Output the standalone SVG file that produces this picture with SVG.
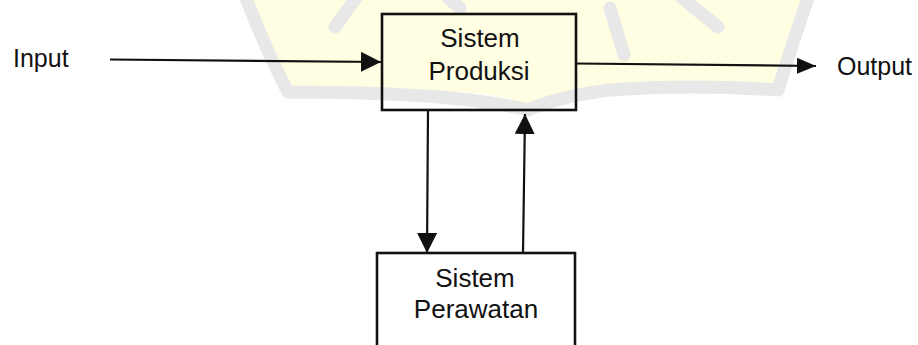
<svg xmlns="http://www.w3.org/2000/svg" width="918" height="345" viewBox="0 0 918 345">
  <style>
    .wm-fill { fill: #fffde2; stroke: none; }
    .wm-band { fill: none; stroke: #e8e8e8; stroke-width: 13; stroke-linecap: round; stroke-linejoin: round; }
    .box { fill: none; stroke: #111; stroke-width: 2.6; }
    .box2 { fill: #ffffff; stroke: #111; stroke-width: 2.6; }
    .conn { fill: none; stroke: #111; stroke-width: 2.2; }
    .lbl { font-family: "Liberation Sans", Arial, sans-serif; font-size: 25px; fill: #111; }
    .nlbl { font-family: "Liberation Sans", Arial, sans-serif; font-size: 26px; fill: #111; text-anchor: middle; }
  </style>
  <defs>
    <marker id="arrow" viewBox="0 0 20 20" refX="20" refY="10" markerWidth="20" markerHeight="20" markerUnits="userSpaceOnUse" orient="auto">
      <path d="M0,0 L20,10 L0,20 Z" fill="#111"/>
    </marker>
    <marker id="arrowSmall" viewBox="0 0 20 20" refX="20" refY="10" markerWidth="19" markerHeight="16" markerUnits="userSpaceOnUse" orient="auto" preserveAspectRatio="none">
      <path d="M0,0 L20,10 L0,20 Z" fill="#111"/>
    </marker>
  </defs>
  <rect width="918" height="345" fill="#ffffff"/>

  <!-- faint background watermark -->
  <g id="watermark">
    <path class="wm-fill" d="M252,0 L803,0 Q790,45 776,88 Q680,80 600,88 Q555,92 528,106 Q505,94 460,92 Q380,88 290,92 Q268,48 252,0 Z"/>
    <path class="wm-band" d="M246,-2 Q266,50 288,92 Q380,92 450,98 Q500,103 528,110"/>
    <path class="wm-band" d="M808,-2 Q792,45 778,90 Q690,84 610,90 Q560,96 528,110"/>
    <path class="wm-band" d="M335,27 L356,-2"/>
    <path class="wm-band" d="M610,8 L624,55"/>
    <path class="wm-band" d="M682,-2 L718,27"/>
    <path class="wm-band" d="M448,-2 L460,8"/>
  </g>

  <g id="connectors">
    <line class="conn" x1="110" y1="59.5" x2="381" y2="62" marker-end="url(#arrow)"/>
    <line class="conn" x1="576" y1="63.5" x2="816" y2="66" marker-end="url(#arrowSmall)"/>
    <line class="conn" x1="428" y1="110" x2="427" y2="253" marker-end="url(#arrow)"/>
    <line class="conn" x1="523" y1="253" x2="525" y2="114" marker-end="url(#arrow)"/>
  </g>

  <g id="input">
    <text class="lbl" x="13" y="67">Input</text>
  </g>

  <g id="output">
    <text class="lbl" x="837" y="75">Output</text>
  </g>

  <g id="sistem-produksi">
    <rect class="box" x="382" y="14" width="194" height="96"/>
    <text class="nlbl" x="480" y="47">Sistem</text>
    <text class="nlbl" x="479" y="80">Produksi</text>
  </g>

  <g id="sistem-perawatan">
    <rect class="box2" x="377" y="253" width="198" height="110"/>
    <text class="nlbl" x="475" y="287">Sistem</text>
    <text class="nlbl" x="476" y="318">Perawatan</text>
  </g>
</svg>
